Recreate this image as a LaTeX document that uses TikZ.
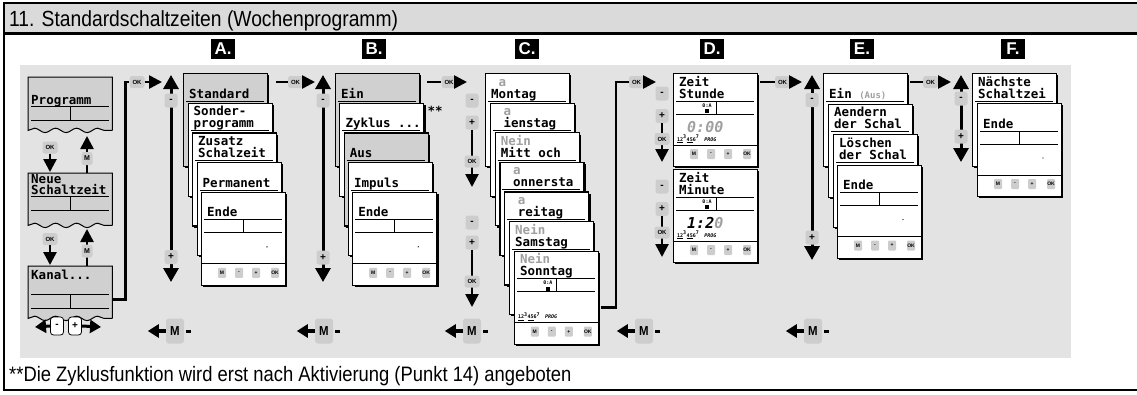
\documentclass[tikz,border=0pt]{standalone}
\usepackage{fontspec}
\setmainfont{Liberation Sans}
\newfontfamily\narrowsf[FakeStretch=0.88]{Liberation Sans}
\newfontfamily\lcdfont{DejaVu Sans Mono}
\usetikzlibrary{positioning, arrows.meta, calc, shadows, decorations.pathmorphing}

\definecolor{panelgray}{HTML}{E3E3E3}
\definecolor{titlegray}{HTML}{DADADA}
\definecolor{keygray}{HTML}{CDCDCD}
\definecolor{cardgray}{HTML}{D0D0D0}
\definecolor{dimgray}{HTML}{A0A0A0}

\newcommand{\keyrow}[1]{%
  \foreach \k/\dx [count=\i] in {M/21,-/38,+/55,OK/74}
    \node[minikey] (#1-k\i) at ($(#1.north west)+(\dx,81)$) {\k};}

% card frame with its two text lines
\newcommand{\lcdcard}[5]{% name, fill, position, first line, second line
  \node[card, fill=#2] (#1) at (#3) {};
  \node[lcd] (#1-a) at ($(#1.north west)+(6,13)$) {#4};
  \node[lcd] (#1-b) at ($(#1.north west)+(6,25)$) {#5};
  \draw[lcdline] ($(#1.north west)+(3,28)$) -- ++(78,0);}

% lower part, only on the front card of a stack
\newcommand{\menubody}[1]{%
  \draw[lcdline] ($(#1.north west)+(42,28)$) -- ++(0,13);
  \draw[lcdline] ($(#1.north west)+(3,41)$) -- ++(78,0);
  \fill ($(#1.north west)+(66,55)$) circle (0.7);
  \draw[lcdline] ($(#1.north west)+(0,72)$) -- ++(84,0);
  \keyrow{#1}}

\newcommand{\clockbody}[2]{% name, digits
  \draw[lcdline] ($(#1.north west)+(3,41)$) -- ++(78,0);
  \draw[lcdline] ($(#1.north west)+(43,28)$) -- ++(0,13);
  \node[tinylcd] (#1-i) at ($(#1.north west)+(34,32.5)$) {0:A};
  \fill ($(#1.north west)+(32,36)$) rectangle ++(4,4);
  \node[digits] (#1-d) at ($(#1.north west)+(14,59)$) {#2};
  \node[tinylcd, anchor=base west] (#1-w) at ($(#1.north west)+(4,68)$)
    {\underline{12}\textsuperscript{3}\underline{45}6\textsuperscript{7}\quad\textit{PROG}};
  \draw[lcdline] ($(#1.north west)+(0,72)$) -- ++(84,0);
  \keyrow{#1}}

\newcommand{\tornbox}[1]{%
  \filldraw[fill=cardgray, line width=1pt, decoration={snake, segment length=21pt, amplitude=2.2pt}]
    (#1.south east) -- (#1.north east) -- (#1.north west) -- (#1.south west)
    decorate {-- (#1.south east)} -- cycle;}

\newcommand{\tornlines}[2]{%
  \draw[lcdline] ($(#1.north west)+(3,#2)$) -- ++(78,0);
  \draw[lcdline] ($(#1.north west)+(42,#2)$) -- ++(0,14);
  \draw[lcdline] ($(#1.north west)+(3,#2+14)$) -- ++(78,0);}

\begin{document}
\begin{tikzpicture}[x=1pt, y=-1pt,
    card/.style={draw, line width=1.1pt, fill=white, anchor=north west, inner sep=0pt,
      minimum width=84pt, minimum height=93pt,
      drop shadow={shadow xshift=1.8pt, shadow yshift=-1.8pt, fill=black, opacity=1}},
    lcd/.style={font=\lcdfont\bfseries\fontsize{12.5}{13}\selectfont, inner sep=0pt, anchor=base west},
    tinylcd/.style={font=\lcdfont\bfseries\fontsize{5}{5}\selectfont, inner sep=0pt},
    digits/.style={font=\lcdfont\bfseries\itshape\fontsize{15}{15}\selectfont, inner sep=0pt, anchor=base west},
    lcdline/.style={line width=1pt},
    tornframe/.style={anchor=north west, inner sep=0pt, minimum width=84pt},
    barkey/.style={fill=keygray, rounded corners=2.5pt, inner sep=0pt, minimum width=13pt, minimum height=14pt,
      font=\bfseries\fontsize{10}{10}\selectfont},
    okkey/.style={barkey, minimum width=15pt, minimum height=12pt, font=\bfseries\fontsize{6}{6}\selectfont},
    smallkey/.style={barkey, minimum width=11pt, minimum height=13pt, font=\bfseries\fontsize{7}{7}\selectfont},
    minikey/.style={fill=keygray, rounded corners=1pt, inner sep=0pt, minimum width=8pt, minimum height=10pt,
      font=\bfseries\fontsize{5}{5}\selectfont},
    mkey/.style={fill=keygray, rounded corners=3pt, inner sep=0pt, minimum width=18pt, minimum height=25pt,
      font=\narrowsf\bfseries\fontsize{13}{13}\selectfont},
    pmtab/.style={draw, fill=white, line width=0.8pt, rounded corners=3pt, inner sep=0pt,
      minimum width=13pt, minimum height=18pt, font=\bfseries\fontsize{10}{10}\selectfont},
    tagbox/.style={fill=black, text=white, inner sep=0pt, minimum width=24pt, minimum height=20pt,
      font=\bfseries\fontsize{17}{17}\selectfont},
    conn/.style={line width=2.6pt},
    okhead/.style={conn, -{Triangle[length=13pt, width=13pt]}},
    updown/.style={line width=3pt, {Triangle[length=14pt, width=15pt]}-{Triangle[length=14pt, width=15pt]}},
    back/.style={line width=4pt, -{Triangle[length=11pt, width=13pt]}},
  ]
  \useasboundingbox (0,0) rectangle (1137,394);

  \fill[titlegray] (4,3) rectangle (1137,33.5);
  \draw[line width=2pt] (1137,3) -- (4,3) -- (4,390) -- (1137,390);
  \draw[line width=2.4pt] (4,33.5) -- (1137,33.5);
  \node[anchor=base west, inner sep=0pt, font=\narrowsf\fontsize{21.9}{22}\selectfont] (title) at (9,26)
    {11. Standardschaltzeiten (Wochenprogramm)};
  \node[anchor=base west, inner sep=0pt, font=\narrowsf\fontsize{20.9}{21}\selectfont] (note) at (9,381)
    {**Die Zyklusfunktion wird erst nach Aktivierung (Punkt 14) angeboten};

  \foreach \l/\x in {A/223,B/374,C/527,D/712,E/862,F/1013}
    \node[tagbox] (tag\l) at (\x,49) {\l.};

  \fill[panelgray] (20,65) rectangle (1071,358);

  % Programm / Neue Schaltzeit / Kanal
  \node[tornframe, minimum height=53pt] (prog) at (28,77) {};
  \tornbox{prog}
  \node[lcd] (prog-t) at (31,104) {Programm};
  \tornlines{prog}{29}
  \node[tornframe, minimum height=52pt] (neue) at (28,173) {};
  \tornbox{neue}
  \node[lcd] (neue-a) at (31,183) {Neue};
  \node[lcd] (neue-b) at (31,194.5) {Schaltzeit};
  \tornlines{neue}{23}
  \node[tornframe, minimum height=52pt] (kanal) at (28,266) {};
  \tornbox{kanal}
  \node[lcd] (kanal-t) at (31,279) {Kanal...};
  \tornlines{kanal}{28}

  \node[okkey] (okPN) at (50,147.5) {OK};
  \coordinate (tipPN) at (50,172);
  \draw[okhead] (okPN.south) -- (tipPN);
  \coordinate (tipNP) at (87,136);
  \draw[okhead] (neue.north -| tipNP) -- (tipNP);
  \node[smallkey] (mNP) at (87,158.5) {M};
  \node[okkey] (okNK) at (50,239) {OK};
  \coordinate (tipNK) at (50,265);
  \draw[okhead] (okNK.south) -- (tipNK);
  \coordinate (tipKN) at (87,229);
  \draw[okhead] (kanal.north -| tipKN) -- (tipKN);
  \node[smallkey] (mKN) at (87,251) {M};

  \node[pmtab] (kminus) at (57,326) {-};
  \node[pmtab] (kplus) at (75,326) {+};
  \coordinate (kleft) at (35,327);
  \coordinate (kright) at (101,327);
  \draw[back, line width=3pt] (kminus.west) -- (kleft);
  \draw[back, line width=3pt] (kplus.east) -- (kright);

  % stacks
  \lcdcard{a1}{cardgray}{183,73}{}{Standard}
  \lcdcard{a2}{white}{187.5,102.7}{Sonder-}{programm}
  \lcdcard{a3}{white}{192,132.4}{Zusatz}{Schalzeit}
  \lcdcard{a4}{white}{196.5,162.1}{}{Permanent}
  \lcdcard{a5}{white}{201,191.8}{}{Ende}
  \menubody{a5}

  \lcdcard{b1}{cardgray}{335,73}{}{Ein}
  \lcdcard{b2}{white}{339.3,102.7}{}{Zyklus ...}
  \lcdcard{b3}{cardgray}{343.6,132.4}{}{Aus}
  \lcdcard{b4}{white}{347.9,162.1}{}{Impuls}
  \lcdcard{b5}{white}{352.2,191.8}{}{Ende}
  \menubody{b5}
  \node[lcd, anchor=west] (ast) at ($(b2.north east)+(3,8)$) {**};

  \lcdcard{c1}{white}{485,73}{\textcolor{dimgray}{\phantom{J}a}}{Montag}
  \lcdcard{c2}{white}{489.8,102.6}{\textcolor{dimgray}{\phantom{J}a}}{\phantom{D}ienstag}
  \lcdcard{c3}{white}{494.6,132.2}{\textcolor{dimgray}{Nein}}{Mitt\phantom{w}och}
  \lcdcard{c4}{white}{499.4,161.8}{\textcolor{dimgray}{\phantom{J}a}}{\phantom{D}onnersta}
  \lcdcard{c5}{white}{504.2,191.4}{\textcolor{dimgray}{\phantom{J}a}}{\phantom{F}reitag}
  \lcdcard{c6}{white}{509,221}{\textcolor{dimgray}{Nein}}{Samstag}
  \lcdcard{c7}{white}{513.8,250.6}{\textcolor{dimgray}{Nein}}{Sonntag}
  \clockbody{c7}{}

  \lcdcard{d1}{white}{673,73}{Zeit}{Stunde}
  \clockbody{d1}{\textcolor{dimgray}{0:00}}
  \lcdcard{d2}{white}{673,169}{Zeit}{Minute}
  \clockbody{d2}{1:2\textcolor{dimgray}{0}}

  \lcdcard{e1}{white}{823,73}{}{Ein {\color{dimgray}\fontsize{9}{9}\selectfont(Aus)}}
  \lcdcard{e2}{white}{828,103.5}{Aendern}{der Schal}
  \lcdcard{e3}{white}{833,134}{Löschen}{der Schal}
  \lcdcard{e4}{white}{837,164.5}{}{Ende}
  \menubody{e4}

  \lcdcard{f1}{white}{972,73}{Nächste}{Schaltzei}
  \lcdcard{f2}{white}{977,103}{}{Ende}
  \menubody{f2}

  % ok connectors
  \node[okkey] (okKA) at (137,82) {OK};
  \coordinate (tipKA) at (162,82);
  \draw[conn] ($(kanal.east)+(0,7)$) -- ++(13,0) |- (okKA.west);
  \draw[okhead] (okKA.east) -- (tipKA);
  \foreach \n/\s/\k/\t in {AB/276/295.5/315, BC/427/449/467, DE/760/782.5/802, EF/910/930.5/951} {
    \coordinate (stub\n) at (\s,82);
    \node[okkey] (ok\n) at (\k,82) {OK};
    \coordinate (tip\n) at (\t,82);
    \draw[conn] (stub\n) -- (ok\n.west);
    \draw[okhead] (ok\n.east) -- (tip\n);
  }
  \node[okkey] (okCD) at (636.5,82) {OK};
  \coordinate (tipCD) at (656,82);
  \draw[conn] ($(c7.east)+(2,10)$) -- ++(15,0) |- (okCD.west);
  \draw[okhead] (okCD.east) -- (tipCD);

  % scroll bars
  \foreach \n/\x/\b/\m/\p in {A/171/282/100.5/257, B/323/282/100.5/257.5, E/812/260/100/237.5, F/961/162/98.5/136.5} {
    \coordinate (bar\n-t) at (\x,75);
    \coordinate (bar\n-b) at (\x,\b);
    \draw[updown] (bar\n-t) -- (bar\n-b);
    \node[barkey] (bar\n-m) at (\x,\m) {-};
    \node[barkey] (bar\n-p) at (\x,\p) {+};
  }
  \foreach \n/\x/\m/\p/\o/\t in {C1/472/100.5/122.5/161.5/187, C2/472/222.5/242.5/281.5/307,
                                 D1/662/93.5/116/139/162, D2/662/186.5/209/232.5/257} {
    \node[barkey] (grp\n-m) at (\x,\m) {-};
    \node[barkey] (grp\n-p) at (\x,\p) {+};
    \coordinate (grp\n-t) at (\x,\t);
    \draw[okhead] (grp\n-p.south) -- (grp\n-t);
    \node[okkey] (grp\n-o) at (\x,\o) {OK};
  }

  % M back row
  \foreach \n/\x in {A/175, B/324, C/472, D/644, E/813} {
    \node[mkey] (m\n) at (\x,331) {M};
    \coordinate (m\n-tip) at ($(m\n.west)+(-18,0)$);
    \draw[back] (m\n.west) -- (m\n-tip);
    \coordinate (m\n-end) at ($(m\n.east)+(7,0)$);
    \draw[line width=3pt] ($(m\n.east)+(2,0)$) -- (m\n-end);
  }
\end{tikzpicture}
\end{document}
